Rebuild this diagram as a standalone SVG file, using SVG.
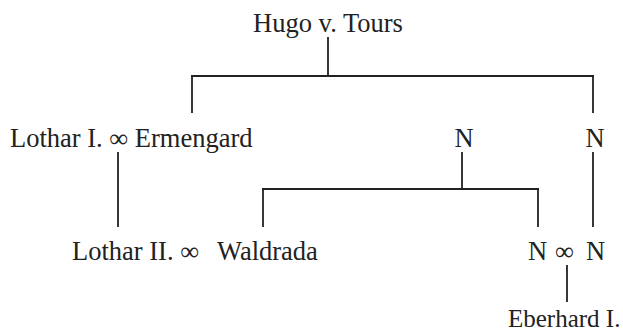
<svg xmlns="http://www.w3.org/2000/svg" width="623" height="334" viewBox="0 0 623 334">
<style>
text{font-family:"Liberation Serif","Times New Roman",serif;font-size:26.5px;fill:#222}
.c line{stroke:#222;stroke-width:1.8}
</style>
<rect width="623" height="334" fill="#fff"/>
<g class="c" id="connectors">
<line x1="328" y1="37" x2="328" y2="76"/>
<line x1="191" y1="76" x2="594" y2="76"/>
<line x1="192" y1="75" x2="192" y2="113"/>
<line x1="593" y1="75" x2="593" y2="113"/>
<line x1="118" y1="152" x2="118" y2="227"/>
<line x1="462" y1="152" x2="462" y2="189"/>
<line x1="593" y1="152" x2="593" y2="227"/>
<line x1="262" y1="189" x2="539" y2="189"/>
<line x1="263" y1="188" x2="263" y2="227"/>
<line x1="538" y1="188" x2="538" y2="227"/>
<line x1="567" y1="265" x2="567" y2="302"/>
</g>
<g id="hugo"><text x="328" y="32" text-anchor="middle">Hugo v. Tours</text></g>
<g id="lothar1"><text x="10" y="147">Lothar I. ∞ Ermengard</text></g>
<g id="n1"><text x="464" y="147" text-anchor="middle">N</text></g>
<g id="n2"><text x="595" y="147" text-anchor="middle">N</text></g>
<g id="lothar2"><text x="72" y="260">Lothar II. ∞<tspan x="217">Waldrada</tspan></text></g>
<g id="nn"><text x="528" y="260">N<tspan x="555">∞</tspan><tspan x="586">N</tspan></text></g>
<g id="eberhard"><text x="508" y="327" style="font-size:25px">Eberhard I.</text></g>
</svg>
